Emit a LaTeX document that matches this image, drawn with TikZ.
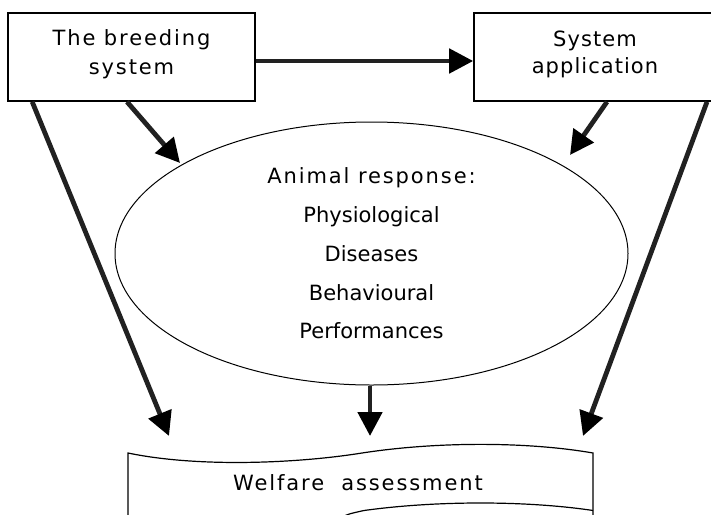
\documentclass[tikz,border=0pt]{standalone}
\usepackage{fontspec}
\setmainfont{DejaVu Sans}
\newfontfamily\spacedfont[LetterSpace=9]{DejaVu Sans}
\newfontfamily\lightspaced[LetterSpace=5]{DejaVu Sans}
\usetikzlibrary{arrows.meta,shapes.geometric}

\begin{document}
\begin{tikzpicture}[x=0.5pt,y=-0.5pt,
	boxnode/.style={draw,line width=0.8pt,minimum height=44pt,inner sep=0pt,align=center},
	arr/.style={line width=2.4pt,draw=black!87,-{Triangle[length=12pt,width=12pt,black]}}]
			\useasboundingbox (0,0) rectangle (711,514);
			\node[boxnode,minimum width=123.5pt,font=\spacedfont\fontsize{10.5}{14.5}\selectfont] (breed) at (131.5,57){The breeding\\system\\[-10pt]};
			\node[boxnode,minimum width=121pt,font=\lightspaced\fontsize{10.5}{13.5}\selectfont] (appl) at (595,57){System\\application\\[-9pt]};
			\node[draw,ellipse,line width=0.5pt,minimum width=256.5pt,minimum height=131.5pt,inner sep=0pt,align=center,font=\fontsize{10.5}{19.4}\selectfont] (resp) at (371.5,253.5){{\spacedfont Animal response:}\\Physiological\\Diseases\\Behavioural\\Performances};
			\draw[line width=0.6pt] (128,540) -- (128,453) .. controls (200,468) and (300,463) .. (362,453) .. controls (440,441) and (530,442) .. (593,453) -- (593,540);
			\draw[line width=0.6pt] (338,519) .. controls (348,514) .. (364,510.5) .. controls (440,500) and (530,501) .. (593,510.5);
			\node[font=\spacedfont\fontsize{10.5}{13}\selectfont] (welf) at (358,483){Welfare\ \ assessment};
			\coordinate (inl) at (180,163);
			\coordinate (inr) at (570,155);
			\coordinate (tl) at (169,436);
			\coordinate (tm) at (370,436);
			\coordinate (tr) at (583,436);
			\draw[arr] ([yshift=-2pt]breed.east) -- ([yshift=-2pt]appl.west);
			\draw[arr] ([xshift=12.5pt]breed.south west) -- (tl);
			\draw[arr] ([xshift=-2.25pt]breed.south) -- (inl);
			\draw[arr] ([xshift=6pt]appl.south) -- (inr);
			\draw[arr] ([xshift=56pt]appl.south) -- (tr);
			\draw[arr] (resp.south -| tm) -- (tm);
		\end{tikzpicture}
\end{document}
